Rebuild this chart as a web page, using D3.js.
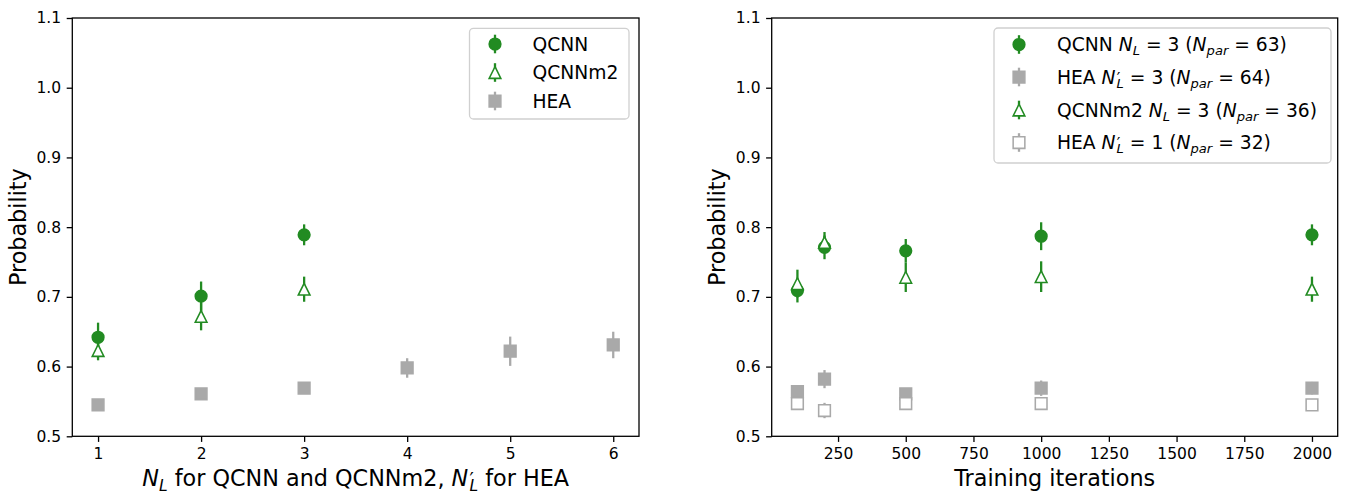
<!DOCTYPE html>
<html>
<head>
<meta charset="utf-8">
<script src="https://cdn.jsdelivr.net/npm/d3@7"></script>
<style>
  body { margin: 0; background: #fff; }
  svg { display: block; }
  text { font-family: "DejaVu Sans", sans-serif; fill: #000; }
</style>
</head>
<body>
<svg id="chart" width="1348" height="494"></svg>
<script>
// ---- data ----
const yTicks = [0.5, 0.6, 0.7, 0.8, 0.9, 1.0, 1.1]
const layerTicks = [1, 2, 3, 4, 5, 6]
const iterTicks = [250, 500, 750, 1000, 1250, 1500, 1750, 2000]

// left panel: probability vs number of layers
const qcnnLayers = [1, 2, 3]
const qcnnByLayer = [0.642, 0.701, 0.789]
const qcnnByLayerErr = [0.021, 0.021, 0.015]
const qcnnm2Layers = [1, 2, 3]
const qcnnm2ByLayer = [0.623, 0.672, 0.711]
const qcnnm2ByLayerErr = [0.014, 0.020, 0.018]
const heaLayers = [1, 2, 3, 4, 5, 6]
const heaByLayer = [0.545, 0.561, 0.569, 0.598, 0.622, 0.631]
const heaByLayerErr = [0.008, 0.004, 0.008, 0.014, 0.021, 0.019]

// right panel: probability vs training iterations
const iterations = [100, 200, 500, 1000, 2000]
const qcnnByIter = [0.709, 0.771, 0.766, 0.787, 0.789]
const qcnnByIterErr = [0.017, 0.017, 0.017, 0.020, 0.015]
const hea3ByIter = [0.564, 0.582, 0.561, 0.569, 0.569]
const hea3ByIterErr = [0.008, 0.013, 0.006, 0.011, 0.009]
const qcnnm2ByIter = [0.719, 0.778, 0.728, 0.729, 0.711]
const qcnnm2ByIterErr = [0.020, 0.015, 0.021, 0.022, 0.018]
const hea1ByIter = [0.547, 0.537, 0.547, 0.547, 0.545]
const hea1ByIterErr = [0.008, 0.011, 0.007, 0.005, 0.008]

const GREEN = '#228B22'
const GRAY = '#A9A9A9'
const MS = 11.7     // marker size
const TICK_FS = 15.5
const LABEL_FS = 22.3
const LEGEND_FS = 18.7

const svg = d3.select('#chart')
const plotTop = 18, plotBottom = 436.3

const y = d3.scaleLinear().domain([0.5, 1.1]).range([plotBottom, plotTop])
const xLeft = d3.scaleLinear().domain([0.75, 6.25]).range([72.3, 639])
const xRight = d3.scaleLinear().domain([5, 2095]).range([771.7, 1337.7])

function markerPath(shape) {
    if (shape == 'circle') return d3.symbol(d3.symbolCircle, Math.PI * MS * MS / 4)()
    if (shape == 'square') return d3.symbol(d3.symbolSquare, MS * MS)()
    const h = MS / 2  // matplotlib '^' : bbox centred triangle
    return `M0,${-h}L${h},${h}L${-h},${h}Z`
}

// text with simple mathtext: tokens [text, style]
function richText(sel, tokens, fs) {
    tokens.forEach(([t, st]) => {
        const ts = sel.append('tspan').text(t)
        if (st == 'i') ts.attr('font-style', 'italic')
        if (st == 'sub') ts.attr('font-style', 'italic').attr('font-size', fs * 0.7).attr('dy', fs * 0.22)
        if (st == 'back') ts.attr('dy', -fs * 0.22)
        // prime sits top right of N, the subscript L goes back under it
        if (st == 'prime') ts.attr('font-size', fs * 0.85).attr('dx', fs * 0.06)
        if (st == 'subp') ts.attr('font-style', 'italic').attr('font-size', fs * 0.7).attr('dx', -fs * 0.2).attr('dy', fs * 0.22)
    })
}

function axes(x, ticks) {
    const g = svg.append('g')
    g.append('g').attr('transform', `translate(0,${plotBottom})`)
        .call(d3.axisBottom(x).tickValues(ticks).tickSize(5.6).tickPadding(6.2).tickFormat(d3.format('d')))
        .call(a => a.select('.domain').remove())
        .call(a => a.selectAll('line').attr('stroke', '#000').attr('stroke-width', 1.3))
        .call(a => a.selectAll('text').attr('font-size', TICK_FS).attr('font-family', 'DejaVu Sans').attr('fill', '#000'))
    g.append('g').attr('transform', `translate(${x.range()[0]},0)`)
        .call(d3.axisLeft(y).tickValues(yTicks).tickSize(5.6).tickPadding(5.6).tickFormat(d3.format('.1f')))
        .call(a => a.select('.domain').remove())
        .call(a => a.selectAll('line').attr('stroke', '#000').attr('stroke-width', 1.3))
        .call(a => a.selectAll('text').attr('font-size', TICK_FS).attr('font-family', 'DejaVu Sans').attr('fill', '#000'))
    return g
}

function drawSeries(g, x, series) {
    // all error bars go under every marker
    series.forEach(s => {
        g.selectAll(null).data(s.xs.map((d, i) => [d, s.vals[i], s.errs[i]])).enter()
            .append('line')
            .attr('x1', d => x(d[0])).attr('x2', d => x(d[0]))
            .attr('y1', d => y(d[1] - d[2])).attr('y2', d => y(d[1] + d[2]))
            .attr('stroke', s.color).attr('stroke-width', 2.3)
    })
    series.forEach(s => {
        g.selectAll(null).data(s.xs.map((d, i) => [d, s.vals[i]])).enter()
            .append('path')
            .attr('d', markerPath(s.shape))
            .attr('transform', d => `translate(${x(d[0])},${y(d[1])})`)
            .attr('fill', s.hollow ? '#fff' : s.color)
            .attr('stroke', s.color).attr('stroke-width', 1.55)
    })
}

function frame(x) {
    const [x0, x1] = x.range()
    svg.append('rect').attr('x', x0).attr('y', plotTop).attr('width', x1 - x0).attr('height', plotBottom - plotTop)
        .attr('fill', 'none').attr('stroke', '#000').attr('stroke-width', 1.3)
}

function legend(box, rows, entries) {
    const g = svg.append('g')
    g.append('rect').attr('x', box.x).attr('y', box.y).attr('width', box.w).attr('height', box.h)
        .attr('rx', 4).attr('fill', '#fff').attr('fill-opacity', 0.8)
        .attr('stroke', '#d0d0d0').attr('stroke-width', 1.3)
    entries.forEach((e, i) => {
        const cy = rows[i]
        g.append('line').attr('x1', box.mx).attr('x2', box.mx).attr('y1', cy - 9.3).attr('y2', cy + 9.3)
            .attr('stroke', e.color).attr('stroke-width', 2.3)
        g.append('path').attr('d', markerPath(e.shape)).attr('transform', `translate(${box.mx},${cy})`)
            .attr('fill', e.hollow ? '#fff' : e.color).attr('stroke', e.color).attr('stroke-width', 1.55)
        const t = g.append('text').attr('x', box.tx).attr('y', cy).attr('dy', '0.36em').attr('font-size', LEGEND_FS)
        richText(t, e.label, LEGEND_FS)
    })
}

// ---- left panel ----
axes(xLeft, layerTicks)
const leftSeries = [
    { xs: qcnnLayers, vals: qcnnByLayer, errs: qcnnByLayerErr, color: GREEN, shape: 'circle' },
    { xs: qcnnm2Layers, vals: qcnnm2ByLayer, errs: qcnnm2ByLayerErr, color: GREEN, shape: 'triangle', hollow: true },
    { xs: heaLayers, vals: heaByLayer, errs: heaByLayerErr, color: GRAY, shape: 'square' },
]
drawSeries(svg.append('g'), xLeft, leftSeries)
frame(xLeft)

// ---- right panel ----
axes(xRight, iterTicks)
const rightSeries = [
    { xs: iterations, vals: qcnnByIter, errs: qcnnByIterErr, color: GREEN, shape: 'circle' },
    { xs: iterations, vals: hea3ByIter, errs: hea3ByIterErr, color: GRAY, shape: 'square' },
    { xs: iterations, vals: qcnnm2ByIter, errs: qcnnm2ByIterErr, color: GREEN, shape: 'triangle', hollow: true },
    { xs: iterations, vals: hea1ByIter, errs: hea1ByIterErr, color: GRAY, shape: 'square', hollow: true },
]
drawSeries(svg.append('g'), xRight, rightSeries)
frame(xRight)

// ---- legends ----
legend({ x: 469.5, y: 28.3, w: 159.5, h: 90.7, mx: 495, tx: 532.5 }, [44, 72.5, 101], [
    { ...leftSeries[0], label: [['QCNN', '']] },
    { ...leftSeries[1], label: [['QCNNm2', '']] },
    { ...leftSeries[2], label: [['HEA', '']] },
])

legend({ x: 994, y: 28, w: 337, h: 135, mx: 1019, tx: 1057 }, [44.5, 77, 110, 142.5], [
    { ...rightSeries[0], label: [['QCNN ', ''], ['N', 'i'], ['L', 'sub'], [' = 3 (', 'back'], ['N', 'i'], ['par', 'sub'], [' = 63)', 'back']] },
    { ...rightSeries[1], label: [['HEA ', ''], ['N', 'i'], ['′', 'prime'], ['L', 'subp'], [' = 3 (', 'back'], ['N', 'i'], ['par', 'sub'], [' = 64)', 'back']] },
    { ...rightSeries[2], label: [['QCNNm2 ', ''], ['N', 'i'], ['L', 'sub'], [' = 3 (', 'back'], ['N', 'i'], ['par', 'sub'], [' = 36)', 'back']] },
    { ...rightSeries[3], label: [['HEA ', ''], ['N', 'i'], ['′', 'prime'], ['L', 'subp'], [' = 1 (', 'back'], ['N', 'i'], ['par', 'sub'], [' = 32)', 'back']] },
])

// ---- axis labels ----
const xlabL = svg.append('text').attr('x', d3.mean(xLeft.range())).attr('y', 486)
    .attr('text-anchor', 'middle').attr('font-size', LABEL_FS)
richText(xlabL, [['N', 'i'], ['L', 'sub'], [' for QCNN and QCNNm2, ', 'back'], ['N', 'i'], ['′', 'prime'], ['L', 'subp'], [' for HEA', 'back']], LABEL_FS)

svg.append('text').attr('x', d3.mean(xRight.range())).attr('y', 486)
    .attr('text-anchor', 'middle').attr('font-size', LABEL_FS).text('Training iterations')

svg.append('text').attr('transform', `translate(25.5,${(plotTop + plotBottom) / 2}) rotate(-90)`)
    .attr('text-anchor', 'middle').attr('font-size', LABEL_FS).text('Probability')
svg.append('text').attr('transform', `translate(724.5,${(plotTop + plotBottom) / 2}) rotate(-90)`)
    .attr('text-anchor', 'middle').attr('font-size', LABEL_FS).text('Probability')
</script>
</body>
</html>
